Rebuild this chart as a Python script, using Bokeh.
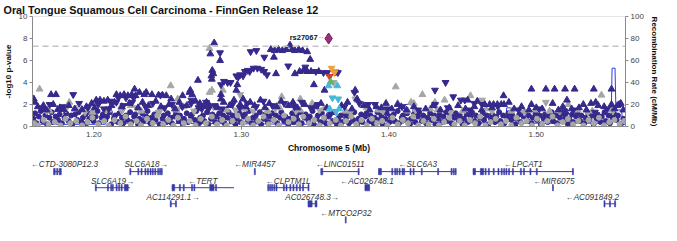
from bokeh.plotting import figure
from bokeh.models import Range1d, LinearAxis, Span, FixedTicker, PrintfTickFormatter, ColumnDataSource, LabelSet
from bokeh.layouts import column
from bokeh.embed import file_html
from bokeh.resources import INLINE
from bokeh.core.properties import value

FONT = "Liberation Sans"
NAVY = "#35298c"
GRAY = "#a6a6a6"
GENE = "#3a3aa6"

TITLE = "Oral Tongue Squamous Cell Carcinoma - FinnGen Release 12"
X0, X1 = 1.1584, 1.5605
x_ticks = [1.20, 1.30, 1.40, 1.50]
y_ticks = [0, 2, 4, 6, 8, 10]
recomb_ticks = [0, 20, 40, 60, 80, 100]
sig_threshold = 7.3

# ---- association points (position Mb, -log10 p) ----
navy_circle_pts = [
(1.1590,0.7),(1.1602,1.2),(1.1611,0.3),(1.1627,0.9),(1.1640,1.4),(1.1652,0.5),(1.1671,1.0),(1.1683,0.2),(1.1699,0.8),(1.1714,1.3),(1.1722,0.4),(1.1741,0.9),(1.1757,0.6),(1.1768,1.1),(1.1783,0.3),(1.1801,0.8),(1.1812,1.2),(1.1829,0.5),(1.1846,1.0),(1.1853,0.2),(1.1872,1.1),(1.1888,0.6),(1.1897,1.3),(1.1915,0.4),(1.1926,0.8),(1.1944,1.1),(1.1951,0.3),(1.1969,0.7),(1.1980,1.2),(1.1998,0.5),
(1.2012,0.9),(1.2025,1.4),(1.2034,0.3),(1.2053,0.8),(1.2061,1.1),(1.2079,0.6),(1.2090,0.9),(1.2108,1.3),(1.2117,0.2),(1.2136,0.7),(1.2144,1.0),(1.2163,0.4),(1.2172,1.2),(1.2191,0.8),(1.2199,0.3),(1.2218,1.0),(1.2227,0.6),(1.2246,1.3),(1.2254,0.4),(1.2273,0.9),(1.2281,1.1),(1.2300,0.2),(1.2309,0.7),(1.2328,1.2),(1.2336,0.5),(1.2355,0.9),(1.2364,1.4),(1.2383,0.3),(1.2391,0.8),(1.2410,1.1),(1.2419,0.6),(1.2438,1.3),(1.2446,0.2),(1.2465,0.7),(1.2474,1.0),(1.2493,0.4),
(1.2501,1.2),(1.2520,0.8),(1.2529,0.3),(1.2548,0.9),(1.2556,1.3),(1.2575,0.5),(1.2584,1.0),(1.2603,0.2),(1.2611,0.7),(1.2630,1.2),(1.2639,0.4),(1.2658,0.9),(1.2666,1.1),(1.2685,0.6),(1.2694,1.4),(1.2713,0.3),(1.2721,0.8),(1.2740,1.0),(1.2749,0.5),(1.2768,1.3),(1.2776,0.2),(1.2795,0.7),(1.2804,1.1),(1.2823,0.4),(1.2831,0.9),(1.2850,1.2),(1.2859,0.6),(1.2878,1.0),(1.2886,0.3),(1.2905,0.8),(1.2914,1.3),(1.2933,0.5),(1.2941,1.0),(1.2960,0.2),(1.2969,0.7),(1.2988,1.2),(1.2996,0.4),
(1.3015,0.9),(1.3024,1.1),(1.3043,0.6),(1.3051,1.4),(1.3070,0.3),(1.3079,0.8),(1.3098,1.0),(1.3106,0.5),(1.3125,1.3),(1.3134,0.2),(1.3153,0.7),(1.3161,1.1),(1.3180,0.4),(1.3189,0.9),(1.3208,1.2),(1.3216,0.6),(1.3235,1.0),(1.3244,0.3),(1.3263,0.8),(1.3271,1.3),(1.3290,0.5),(1.3299,0.9),(1.3318,0.2),(1.3326,0.7),(1.3345,1.2),(1.3354,0.4),(1.3373,1.0),(1.3381,0.6),(1.3400,1.3),(1.3409,0.3),(1.3428,0.8),(1.3436,1.1),(1.3455,0.5),(1.3464,0.9),(1.3483,1.4),(1.3491,0.2),
(1.3510,0.7),(1.3519,1.0),(1.3538,0.4),(1.3546,1.2),(1.3565,0.8),(1.3574,0.3),(1.3593,0.9),(1.3601,1.1),(1.3620,0.5),(1.3629,1.3),(1.3648,0.2),(1.3656,0.7),(1.3675,1.0),(1.3684,0.4),(1.3703,1.2),(1.3711,0.8),(1.3730,0.3),(1.3739,1.0),(1.3758,0.6),(1.3766,1.3),(1.3785,0.2),(1.3794,0.7),(1.3813,1.1),(1.3821,0.4),(1.3840,0.9),(1.3849,1.2),(1.3868,0.5),(1.3876,1.0),(1.3895,0.3),(1.3904,0.8),(1.3923,1.3),(1.3931,0.6),(1.3950,1.0),(1.3959,0.2),(1.3978,0.7),(1.3986,1.2),
(1.4005,0.4),(1.4014,0.9),(1.4033,1.1),(1.4041,0.5),(1.4060,1.4),(1.4069,0.3),(1.4088,0.8),(1.4096,1.0),(1.4115,0.6),(1.4124,1.2),(1.4143,0.2),(1.4151,0.7),(1.4170,1.1),(1.4179,0.4),(1.4198,0.9),(1.4206,1.3),(1.4225,0.5),(1.4234,1.0),(1.4253,0.3),(1.4261,0.8),(1.4280,1.2),(1.4289,0.6),(1.4308,1.0),(1.4316,0.2),(1.4335,0.7),(1.4344,1.1),(1.4363,0.4),(1.4371,0.9),(1.4390,1.3),(1.4399,0.5),(1.4418,1.0),(1.4426,0.3),(1.4445,0.8),(1.4454,1.2),(1.4473,0.6),(1.4481,1.0),
(1.4500,0.2),(1.4509,0.7),(1.4528,1.1),(1.4536,0.4),(1.4555,0.9),(1.4564,1.3),(1.4583,0.5),(1.4591,1.0),(1.4610,0.3),(1.4619,0.8),(1.4638,1.2),(1.4646,0.6),(1.4665,1.0),(1.4674,0.2),(1.4693,0.7),(1.4701,1.1),(1.4720,0.4),(1.4729,0.9),(1.4748,1.3),(1.4756,0.5),(1.4775,1.0),(1.4784,0.3),(1.4803,0.8),(1.4811,1.2),(1.4830,0.6),(1.4839,1.0),(1.4858,0.2),(1.4866,0.7),(1.4885,1.1),(1.4894,0.4),(1.4913,0.9),(1.4921,1.3),(1.4940,0.5),(1.4949,1.0),(1.4968,0.3),(1.4976,0.8),(1.4995,1.2),
(1.5004,0.6),(1.5023,1.0),(1.5031,0.2),(1.5050,0.7),(1.5059,1.1),(1.5078,0.4),(1.5086,0.9),(1.5105,1.3),(1.5114,0.5),(1.5133,1.0),(1.5141,0.3),(1.5160,0.8),(1.5169,1.2),(1.5188,0.6),(1.5196,1.0),(1.5215,0.2),(1.5224,0.7),(1.5243,1.1),(1.5251,0.4),(1.5270,0.9),(1.5279,1.3),(1.5298,0.5),(1.5306,1.0),(1.5325,0.3),(1.5334,0.8),(1.5353,1.2),(1.5361,0.6),(1.5380,1.0),(1.5389,0.2),(1.5408,0.7),(1.5416,1.1),(1.5435,0.4),(1.5444,0.9),(1.5463,1.3),(1.5471,0.5),(1.5490,1.0),(1.5499,0.3),(1.5518,0.8),(1.5526,1.2),(1.5545,0.6),(1.5554,1.0),(1.5573,0.2),(1.5590,0.7),
]

gray_circle_pts = [
(1.1595,0.3),(1.1622,0.1),(1.1660,0.6),(1.1693,0.2),(1.1735,0.4),(1.1775,0.1),(1.1808,0.7),(1.1840,0.3),(1.1880,0.5),(1.1920,0.1),(1.1958,0.4),(1.1990,0.8),(1.2030,0.2),(1.2070,0.5),(1.2100,0.1),(1.2140,0.6),(1.2180,0.3),(1.2215,0.9),(1.2250,0.2),(1.2290,0.5),(1.2320,0.1),(1.2360,0.7),(1.2400,0.3),(1.2430,1.0),(1.2470,0.2),(1.2505,0.6),(1.2540,0.1),(1.2570,0.8),(1.2610,0.3),(1.2650,0.5),(1.2690,0.1),(1.2725,0.7),(1.2760,0.3),(1.2800,0.9),(1.2835,0.2),(1.2870,0.6),(1.2900,0.1),(1.2940,0.5),(1.2975,1.0),
(1.3010,0.3),(1.3045,0.7),(1.3080,0.1),(1.3115,0.5),(1.3150,0.9),(1.3185,0.2),(1.3220,0.6),(1.3255,0.1),(1.3290,1.0),(1.3320,0.4),(1.3355,0.7),(1.3390,0.2),(1.3420,0.9),(1.3460,0.3),(1.3495,0.6),(1.3530,0.1),(1.3560,0.8),(1.3600,0.3),(1.3640,0.6),(1.3675,0.1),(1.3710,0.5),(1.3745,0.9),(1.3780,0.2),(1.3815,0.6),(1.3850,0.1),(1.3885,0.7),(1.3920,0.3),(1.3955,0.5),(1.3990,0.1),
(1.4025,0.8),(1.4060,0.2),(1.4095,0.6),(1.4130,0.3),(1.4165,0.9),(1.4200,0.1),(1.4235,0.5),(1.4270,0.2),(1.4305,0.7),(1.4340,0.1),(1.4375,0.4),(1.4410,0.8),(1.4445,0.2),(1.4480,0.5),(1.4515,0.1),(1.4550,0.6),(1.4585,0.3),(1.4620,0.9),(1.4655,0.1),(1.4690,0.4),(1.4725,0.7),(1.4760,0.2),(1.4795,0.5),(1.4830,0.1),(1.4865,0.8),(1.4900,0.3),(1.4935,0.5),(1.4970,0.1),
(1.5005,0.7),(1.5040,0.2),(1.5075,0.5),(1.5110,0.9),(1.5145,0.1),(1.5180,0.4),(1.5215,0.7),(1.5250,0.2),(1.5285,0.5),(1.5320,0.1),(1.5355,0.6),(1.5390,0.3),(1.5425,0.8),(1.5460,0.1),(1.5495,0.4),(1.5530,0.6),(1.5565,0.2),(1.5595,0.5),
]

navy_up_pts = [
(1.1593,2.5),(1.1600,2.2),(1.1658,1.9),(1.1665,1.6),(1.1710,2.9),(1.1743,2.9),(1.1756,1.55),(1.1795,1.55),(1.1919,1.55),
(1.2016,2.4),(1.2042,2.4),(1.2068,2.3),(1.2094,2.4),(1.2153,2.9),(1.2179,2.8),(1.2205,2.9),(1.2231,2.8),(1.2257,2.9),(1.2283,2.8),(1.2276,3.4),
(1.2309,3.1),(1.2355,3.1),(1.2342,2.9),(1.2394,2.9),(1.2439,2.85),(1.2465,2.85),(1.2491,2.8),(1.2524,2.5),(1.2602,2.8),(1.2648,3.1),(1.2654,3.3),
(1.2667,2.9),(1.2706,4.2),(1.2719,2.1),(1.2764,2.2),(1.2862,2.9),(1.2862,2.5),(1.2973,3.8),(1.2966,3.3),(1.3012,2.5),(1.2992,2.0),
(1.2816,7.6),(1.2790,6.6),(1.2856,6.0),(1.2797,4.6),(1.2810,4.8),(1.2803,5.1),(1.2800,4.3),
(1.3200,7.0),(1.3226,6.9),(1.3252,7.0),(1.3278,6.9),(1.3304,7.0),(1.3343,7.0),(1.3363,6.9),(1.3389,7.0),(1.3415,6.9),(1.3330,7.4),(1.3447,6.8),(1.3467,6.1),(1.3221,6.3),
(1.3235,4.8),(1.3363,4.8),(1.3395,5.0),(1.3421,5.1),(1.3447,5.0),(1.3473,5.0),(1.3525,5.0),(1.3492,3.8),(1.3564,3.3),(1.3785,2.5),(1.3772,3.3),
(1.3916,1.8),(1.3981,2.1),(1.4085,1.8),(1.4535,2.4),(1.4600,2.3),(1.4778,2.8),(1.4814,2.2),
(1.4651,2.0),(1.4684,2.0),(1.4710,2.0),(1.4736,2.0),(1.4762,2.0),(1.4781,2.0),
(1.4967,3.4),(1.5065,3.4),(1.5124,3.4),(1.5195,3.4),(1.5260,3.4),(1.5390,3.4),(1.5510,3.4),
(1.4967,2.0),(1.5111,2.1),(1.5208,2.4),(1.5403,2.2),(1.5319,2.0),(1.5510,2.0),(1.5562,2.0),(1.5201,1.3),(1.5371,2.1),(1.5420,1.9),(1.5573,2.1),
(1.1620,1.8),(1.1680,1.5),(1.1725,2.0),(1.1770,1.7),(1.1830,1.9),(1.1870,1.6),(1.1950,1.8),(1.1985,2.1),(1.2005,1.7),(1.2120,1.9),(1.2140,2.2),(1.2190,1.8),(1.2240,2.1),(1.2300,1.7),(1.2330,2.2),(1.2370,1.9),(1.2420,2.3),(1.2455,1.8),(1.2510,2.0),(1.2550,1.6),(1.2580,2.2),(1.2630,1.9),(1.2690,2.3),(1.2740,1.8),(1.2780,2.0),(1.2840,1.7),(1.2880,2.2),(1.2920,1.9),(1.2950,2.4),
(1.3030,1.8),(1.3060,2.2),(1.3090,1.9),(1.3130,2.4),(1.3160,1.7),(1.3190,2.1),(1.3240,1.8),(1.3270,2.3),(1.3320,1.9),(1.3350,2.2),(1.3380,1.7),(1.3430,2.0),(1.3500,1.8),(1.3540,2.1),(1.3580,1.7),(1.3680,1.9),(1.3720,2.2),(1.3750,1.6),(1.3830,1.9),(1.3870,1.5),(1.3950,1.7),
(1.4020,1.6),(1.4060,2.0),(1.4120,1.5),(1.4170,1.8),(1.4250,1.6),(1.4300,1.9),(1.4350,1.5),(1.4410,1.7),(1.4470,1.9),(1.4520,1.6),(1.4580,1.8),(1.4630,1.5),(1.4700,1.7),(1.4850,1.6),(1.4900,1.8),(1.4950,1.5),(1.5000,1.7),(1.5040,1.6),(1.5150,1.5),(1.5180,1.8),(1.5240,1.6),(1.5290,1.7),(1.5340,1.5),(1.5460,1.8),(1.5530,1.6),(1.5590,1.5),(1.5550,1.9),
]

navy_down_pts = [
(1.1860,2.9),(1.2068,1.6),(1.2101,1.6),(1.2153,2.2),(1.2166,2.6),(1.2218,2.6),(1.2270,2.6),(1.2452,2.85),(1.2661,2.4),(1.2732,1.6),(1.2778,1.6),
(1.2862,3.8),(1.2907,4.0),(1.2927,4.0),(1.2966,4.6),(1.2992,4.7),(1.3024,5.0),(1.3044,5.1),(1.3083,5.3),(1.3109,5.3),(1.3063,6.8),(1.3102,6.9),(1.2856,6.7),(1.2882,4.1),(1.2979,4.5),(1.3012,4.6),
(1.3156,6.3),(1.3318,5.5),(1.3434,5.4),(1.3057,5.0),(1.3135,5.2),(1.3155,5.0),(1.3174,4.7),(1.3505,5.0),(1.3557,4.9),(1.3583,4.9),(1.3640,4.95),(1.3655,4.9),
(1.3767,3.1),(1.3860,2.0),(1.3906,2.0),(1.4313,3.3),(1.4385,4.0),(1.4437,2.7),(1.4489,2.4),(1.4314,2.0),(1.4515,2.4),(1.4632,2.0),(1.4580,2.1),(1.5397,1.3),(1.5191,1.4),
(1.1640,1.7),(1.1700,2.0),(1.1790,1.8),(1.1900,2.1),(1.1960,1.7),(1.2030,2.0),(1.2110,2.3),(1.2200,1.9),(1.2260,2.2),(1.2350,1.8),(1.2400,2.1),(1.2480,1.7),(1.2530,2.0),(1.2600,1.8),(1.2660,2.1),(1.2710,1.7),(1.2760,2.2),(1.2820,1.9),(1.2870,1.6),(1.2940,2.0),(1.2990,1.7),
(1.3040,2.1),(1.3100,1.8),(1.3150,2.3),(1.3210,1.9),(1.3290,2.1),(1.3360,1.8),(1.3410,2.2),(1.3470,1.7),(1.3520,2.0),(1.3700,1.8),(1.3800,2.1),(1.3990,1.6),(1.4090,1.8),(1.4200,1.5),(1.4400,1.7),(1.4550,1.5),(1.4740,1.8),(1.4880,1.5),(1.5020,1.6),(1.5250,1.5),(1.5480,1.6),
]

gray_up_pts = [
(1.1632,3.4),(1.1834,2.2),(1.2521,3.7),(1.2784,7.1),(1.2801,3.3),(1.2875,3.3),(1.2785,3.1),(1.3274,2.7),(1.3400,2.5),
(1.4047,3.6),(1.4228,2.9),(1.4313,2.2),(1.4378,2.4),(1.4554,2.8),(1.4151,2.2),(1.4281,1.6),(1.4060,2.1),(1.4170,2.1),(1.5442,2.85),(1.5217,2.0),
(1.2185,1.8),(1.2569,2.5),(1.2608,1.8),
(1.1700,1.4),(1.1880,1.6),(1.1990,1.3),(1.2100,1.5),(1.2250,1.9),(1.2320,1.4),(1.2470,1.6),(1.2560,1.5),(1.2720,1.9),(1.2900,1.5),(1.3020,1.6),(1.3180,1.4),(1.3260,1.7),(1.3400,1.5),(1.3480,2.1),(1.3560,1.6),(1.3710,1.4),(1.3850,1.7),(1.3930,1.5),(1.4130,1.4),(1.4330,1.5),(1.4500,1.4),(1.4660,1.6),(1.4830,1.4),(1.4990,1.5),(1.5090,1.4),(1.5280,1.5),(1.5380,1.4),(1.5500,1.5),
]

gray_down_pts = [
(1.2992,2.9),(1.3773,2.5),(1.5065,2.2),(1.3625,4.0),(1.4632,2.4),
(1.1680,1.4),(1.1810,1.6),(1.1940,1.3),(1.2080,1.5),(1.2190,1.4),(1.2290,1.7),(1.2440,1.3),(1.2570,1.6),(1.2680,1.4),(1.2810,1.8),(1.2960,1.5),(1.3080,1.4),(1.3230,1.6),(1.3370,1.4),(1.3530,1.5),(1.3740,1.3),(1.3960,1.4),(1.4180,1.5),(1.4420,1.3),(1.4700,1.4),(1.4920,1.3),(1.5160,1.4),(1.5350,1.3),(1.5520,1.4),
]

# variants in LD with the lead SNP
ld_pos = [1.3612, 1.3631, 1.3599, 1.3605, 1.3592, 1.3651, 1.3618, 1.3657, 1.3599, 1.3664, 1.3641]
ld_logp = [5.3, 4.9, 4.55, 4.05, 3.7, 3.7, 2.6, 2.5, 1.6, 1.6, 1.35]
ld_r2 = [0.7, 0.7, 0.9, 0.5, 0.3, 0.3, 0.3, 0.3, 0.3, 0.3, 0.3]
ld_dir = [-1, -1, -1, 1, 1, 1, -1, -1, 1, 1, -1]

lead_snp = "rs27067"
lead_pos = 1.3592
lead_logp = 8.0

# recombination rate (cM/Mb)
recomb_pos = [1.1584,1.1598,1.1606,1.2078,1.2088,1.2120,1.2126,1.2268,1.2296,1.2328,1.2334,1.3520,1.3551,1.3583,1.3648,1.3654,1.4100,1.4110,1.4142,1.4161,1.4166,1.4790,1.4800,1.4826,1.4832,1.5500,1.5508,1.5514,1.5534,1.5540,1.5579,1.5585,1.5605]
recomb_rate = [11,8,2,2,10,16,3,3,11,16,3,2,4,13,13,3,3,20,20,22,4,3,17,17,3,3,10,53,53,15,15,2,2]

# genes
gene_names = ["CTD-3080P12.3","SLC6A18","MIR4457","LINC01511","SLC6A3","LPCAT1",
              "SLC6A19","TERT","CLPTM1L","AC026748.1","MIR6075",
              "AC114291.1","AC026748.3","AC091849.2","MTCO2P32"]
gene_strand = ["-","+","-","-","-","-","+","-","-","-","-","+","+","-","-"]
gene_row = [0,0,0,0,0,0,1,1,1,1,1,2,2,2,3]
gene_start = [1.1727,1.2244,1.3088,1.3539,1.3930,1.4571,1.2010,1.2530,1.3179,1.3838,1.5110,1.2518,1.3452,1.5459,1.3705]
gene_end = [1.1779,1.2464,1.3095,1.3799,1.4457,1.5252,1.2244,1.2950,1.3459,1.3870,1.5116,1.2560,1.3513,1.5538,1.3711]
gene_label_pos = [1.1800,1.2355,1.3090,1.3669,1.4196,1.4912,1.2127,1.2738,1.3317,1.3851,1.5120,1.2537,1.3480,1.5380,1.3708]
exon_starts = [
 [1.1727,1.1748,1.1765],
 [1.2244,1.2298,1.2320,1.2346,1.2363,1.2381,1.2396,1.2413,1.2433,1.2446,1.2457],
 [1.3088],
 [1.3539,1.3792],
 [1.3930,1.4020,1.4040,1.4053,1.4070,1.4090,1.4100,1.4144,1.4165,1.4220,1.4331,1.4422,1.4437,1.4450],
 [1.4571,1.4621,1.4653,1.4675,1.4708,1.4740,1.4762,1.4779,1.4794,1.4812,1.4838,1.4892,1.4913,1.4957,1.5000,1.5245],
 [1.2010,1.2092,1.2114,1.2125,1.2151,1.2168,1.2185,1.2207],
 [1.2530,1.2580,1.2606,1.2662,1.2678,1.2786,1.2825],
 [1.3179,1.3192,1.3205,1.3220,1.3235,1.3285,1.3303,1.3329,1.3350,1.3372,1.3394,1.3415,1.3452],
 [1.3838],
 [1.5110],
 [1.2518,1.2553],
 [1.3452,1.3500],
 [1.5459,1.5496,1.5531],
 [1.3705],
]
exon_ends = [
 [1.1738,1.1756,1.1779],
 [1.2251,1.2305,1.2327,1.2353,1.2370,1.2388,1.2403,1.2420,1.2440,1.2453,1.2464],
 [1.3095],
 [1.3552,1.3799],
 [1.3950,1.4027,1.4047,1.4060,1.4077,1.4097,1.4107,1.4151,1.4172,1.4227,1.4338,1.4429,1.4444,1.4457],
 [1.4588,1.4643,1.4660,1.4682,1.4715,1.4747,1.4769,1.4786,1.4801,1.4819,1.4845,1.4899,1.4920,1.4964,1.5007,1.5252],
 [1.2017,1.2099,1.2121,1.2132,1.2158,1.2175,1.2192,1.2233],
 [1.2548,1.2587,1.2613,1.2669,1.2685,1.2815,1.2832],
 [1.3186,1.3199,1.3212,1.3227,1.3242,1.3292,1.3310,1.3336,1.3357,1.3379,1.3401,1.3422,1.3459],
 [1.3870],
 [1.5116],
 [1.2525,1.2560],
 [1.3480,1.3513],
 [1.5466,1.5503,1.5538],
 [1.3711],
]

LD_COLORS = [(0.8, "#d43f3a"), (0.6, "#eea236"), (0.4, "#5cb85c"), (0.2, "#46b8da"), (0.0, "#357ebd")]


def ld_color(r2):
    for lo, c in LD_COLORS:
        if r2 >= lo:
            return c
    return NAVY


def cfg_axis(ax, label, ticks):
    ax.axis_label = label
    ax.ticker = FixedTicker(ticks=ticks)
    ax.axis_label_text_font = FONT
    ax.axis_label_text_font_size = "8px"
    ax.axis_label_text_font_style = "bold"
    ax.axis_label_text_color = "#111111"
    ax.axis_label_standoff = 3
    ax.major_label_text_font = FONT
    ax.major_label_text_font_size = "8px"
    ax.major_label_text_color = "#444444"
    ax.major_label_standoff = 2
    ax.major_tick_in = 0
    ax.major_tick_out = 3
    ax.minor_tick_in = 0
    ax.minor_tick_out = 0
    ax.minor_tick_line_color = None
    ax.axis_line_color = "#8a8a8a"
    ax.major_tick_line_color = "#8a8a8a"


BORDER_L = 26
BORDER_R = 34

# ---------------- main association panel ----------------
p = figure(width=661, height=155, x_range=Range1d(X0, X1), y_range=Range1d(0, 10),
           output_backend="svg", toolbar_location=None,
           min_border_left=BORDER_L, min_border_right=BORDER_R, min_border_top=0, min_border_bottom=0)
p.extra_y_ranges = {"recomb": Range1d(0, 100)}
p.add_layout(LinearAxis(y_range_name="recomb"), "right")
p.xgrid.visible = False
p.ygrid.visible = False
p.outline_line_color = "#e6e6e6"
p.background_fill_color = "white"

p.title.text = TITLE
p.title.text_font = FONT
p.title.text_font_size = "10.8px"
p.title.text_font_style = "bold"
p.title.text_color = "#111111"
p.title.align = "left"
p.title.offset = -29
p.title.standoff = 2

cfg_axis(p.yaxis[0], "-log10 p-value", y_ticks)
cfg_axis(p.yaxis[1], "Recombination Rate (cM/Mb)", recomb_ticks)
cfg_axis(p.xaxis[0], "Chromosome 5 (Mb)", x_ticks)
p.xaxis[0].formatter = PrintfTickFormatter(format="%.2f")
p.xaxis[0].axis_label_text_font_size = "8.5px"

p.line(recomb_pos, recomb_rate, y_range_name="recomb", line_color="#2b3cf0", line_width=1)

p.add_layout(Span(location=sig_threshold, dimension="width", line_color="#c4c4c4",
                  line_dash="6 4", line_width=1.5))


def pts(lst):
    return [a for a, b in lst], [b for a, b in lst]


TRI = 6.8
x, y = pts(navy_circle_pts)
p.scatter(x, y, marker="circle", size=5, fill_color=NAVY, line_color=NAVY)
x, y = pts(gray_circle_pts)
p.scatter(x, y, marker="circle", size=5, fill_color=GRAY, line_color=GRAY)
x, y = pts(gray_up_pts)
p.scatter(x, y, marker="triangle", size=TRI, fill_color=GRAY, line_color=GRAY)
x, y = pts(gray_down_pts)
p.scatter(x, y, marker="inverted_triangle", size=TRI, fill_color=GRAY, line_color=GRAY)
x, y = pts(navy_down_pts)
p.scatter(x, y, marker="inverted_triangle", size=TRI, fill_color=NAVY, line_color=NAVY)
x, y = pts(navy_up_pts)
p.scatter(x, y, marker="triangle", size=TRI, fill_color=NAVY, line_color=NAVY)

ld_src = ColumnDataSource(dict(
    x=ld_pos, y=ld_logp,
    c=[ld_color(r) for r in ld_r2],
    m=["triangle" if d > 0 else "inverted_triangle" for d in ld_dir]))
p.scatter("x", "y", marker="m", size=TRI, fill_color="c", line_color="c", source=ld_src)

p.scatter([lead_pos], [lead_logp], marker="diamond", size=11, fill_color="#9a2f7c", line_color="#7a1f5c")
p.text([lead_pos], [lead_logp], text=[lead_snp], x_offset=-11, y_offset=-1,
       text_align="right", text_baseline="middle", text_font=value(FONT),
       text_font_size="7.5px", text_font_style="bold", text_color="#111111")
p.text([lead_pos], [lead_logp], text=["\u00b7\u00b7"], x_offset=-5, y_offset=-1,
       text_align="right", text_baseline="middle", text_font=value(FONT),
       text_font_size="7.5px", text_color="#666666")

# ---------------- gene panel ----------------
g = figure(width=661, height=70, x_range=p.x_range, y_range=Range1d(0, 10),
           output_backend="svg", toolbar_location=None,
           min_border_left=BORDER_L, min_border_right=BORDER_R, min_border_top=0, min_border_bottom=0)
g.xaxis.visible = False
g.yaxis.visible = False
g.xgrid.visible = False
g.ygrid.visible = False
g.outline_line_color = None

row_y = [7.7, 5.4, 3.1, 0.8]
EXON_H = 0.45

seg_x0, seg_x1, seg_y = [], [], []
ql, qr, qt, qb = [], [], [], []
lab_x, lab_y, lab_t = [], [], []
for i, name in enumerate(gene_names):
    yy = row_y[gene_row[i]]
    seg_x0.append(gene_start[i]); seg_x1.append(gene_end[i]); seg_y.append(yy)
    for s, e in zip(exon_starts[i], exon_ends[i]):
        ql.append(s); qr.append(e); qt.append(yy + EXON_H); qb.append(yy - EXON_H)
    lab_x.append(gene_label_pos[i]); lab_y.append(yy + 0.95)
    lab_t.append(name + "\u2192" if gene_strand[i] == "+" else "\u2190" + name)

g.segment(seg_x0, seg_y, seg_x1, seg_y, line_color=GENE, line_width=1)
g.quad(left=ql, right=qr, top=qt, bottom=qb, fill_color=GENE, line_color=GENE, line_width=0.6)
lab_src = ColumnDataSource(dict(x=lab_x, y=lab_y, t=lab_t))
g.add_layout(LabelSet(x="x", y="y", text="t", source=lab_src, text_align="center",
                      text_baseline="middle", text_font=value(FONT), text_font_style="italic",
                      text_font_size="8.2px", text_color="#333333"))

layout = column(p, g, spacing=0)
open("out.html", "w").write(file_html(layout, INLINE))
